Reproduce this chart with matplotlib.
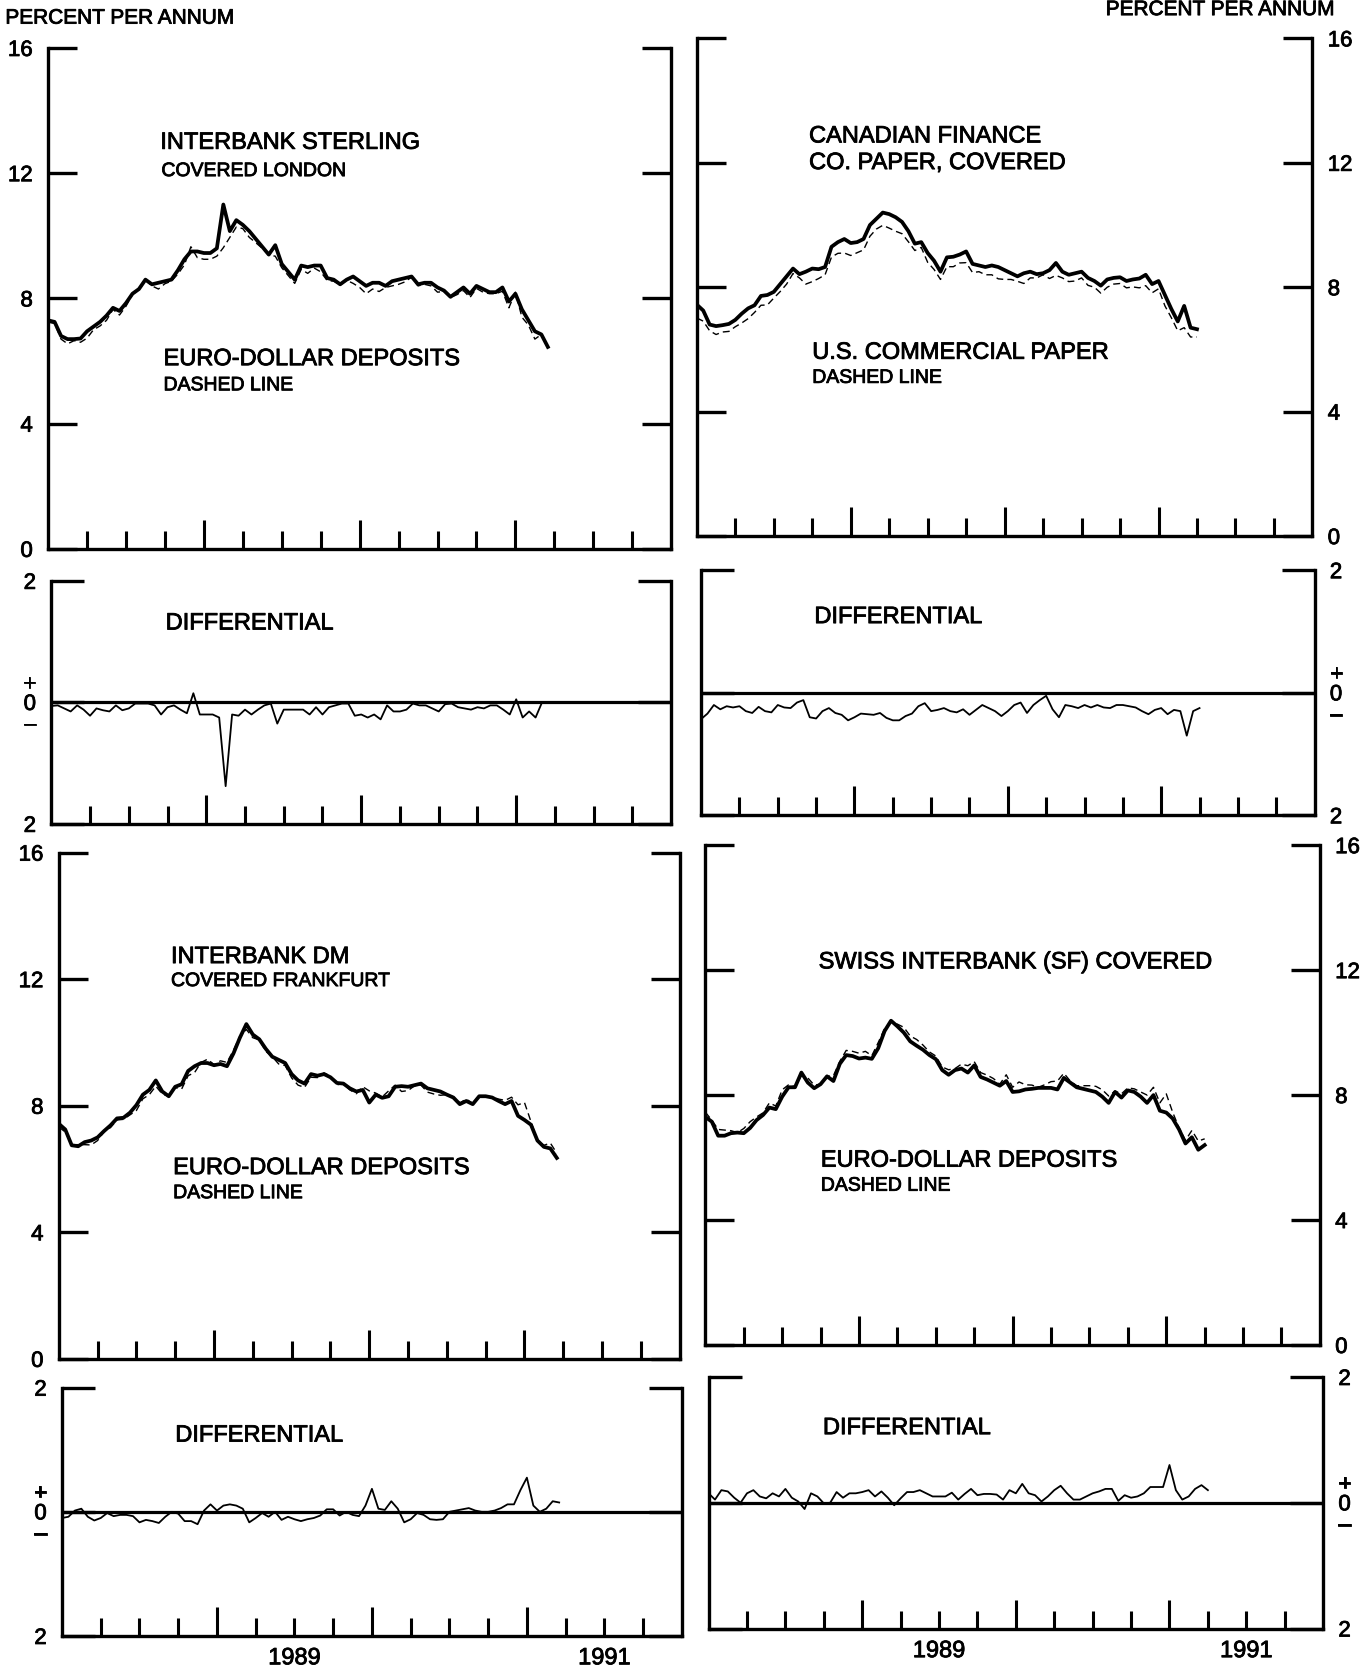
import numpy as np
import matplotlib
matplotlib.use('Agg')
import matplotlib.pyplot as plt
import matplotlib.patheffects as pe

plt.rcParams['font.family'] = ['Liberation Sans', 'DejaVu Sans']

# semi-monthly readings starting Jan 1988
START = 1988.0
STEP = 1.0 / 24

sterling = [7.3, 7.25, 6.8, 6.7, 6.7, 6.72, 6.95, 7.1, 7.25, 7.45,
            7.7, 7.6, 7.85, 8.15, 8.3, 8.6, 8.45, 8.5, 8.55, 8.6,
            8.9, 9.25, 9.5, 9.5, 9.45, 9.45, 9.6, 11.0, 10.15, 10.5,
            10.35, 10.15, 9.9, 9.65, 9.4, 9.7, 9.1, 8.85, 8.6, 9.05,
            9.0, 9.05, 9.05, 8.65, 8.6, 8.45, 8.6, 8.7, 8.55, 8.4,
            8.5, 8.5, 8.4, 8.55, 8.6, 8.65, 8.7, 8.45, 8.5, 8.5,
            8.35, 8.25, 8.05, 8.2, 8.35, 8.15, 8.4, 8.3, 8.2, 8.2,
            8.35, 7.9, 8.15, 7.65, 7.3, 6.95, 6.85, 6.45]
sterling_diff = [-0.06, -0.05, -0.1, -0.15, -0.05, -0.12, -0.22, -0.1, -0.13, -0.15,
                 -0.05, -0.13, -0.1, -0.02, -0.02, -0.02, -0.05, -0.2, -0.08, -0.05,
                 -0.12, -0.18, 0.15, -0.2, -0.2, -0.2, -0.25, -1.38, -0.2, -0.22,
                 -0.12, -0.2, -0.12, -0.05, -0.02, -0.35, -0.12, -0.12, -0.12, -0.12,
                 -0.2, -0.08, -0.2, -0.08, -0.05, -0.02, -0.02, -0.22, -0.2, -0.25,
                 -0.2, -0.28, -0.05, -0.15, -0.15, -0.12, -0.02, -0.05, -0.05, -0.1,
                 -0.15, -0.03, -0.02, -0.08, -0.1, -0.12, -0.08, -0.1, -0.05, -0.05,
                 -0.12, -0.2, 0.05, -0.25, -0.15, -0.25, 0.0]

canada = [7.44, 7.25, 6.8, 6.75, 6.78, 6.82, 6.95, 7.15, 7.32, 7.42,
          7.72, 7.75, 7.85, 8.1, 8.35, 8.6, 8.42, 8.5, 8.6, 8.58,
          8.65, 9.3, 9.45, 9.55, 9.42, 9.45, 9.55, 10.0, 10.2, 10.4,
          10.35, 10.25, 10.1, 9.8, 9.4, 9.45, 9.1, 8.85, 8.5, 8.96,
          8.98, 9.05, 9.15, 8.75, 8.7, 8.65, 8.7, 8.65, 8.55, 8.45,
          8.35, 8.45, 8.5, 8.42, 8.45, 8.55, 8.78, 8.5, 8.4, 8.45,
          8.5, 8.3, 8.2, 8.05, 8.25, 8.3, 8.32, 8.2, 8.25, 8.28,
          8.4, 8.1, 8.2, 7.75, 7.3, 6.9, 7.4, 6.7, 6.65]
canada_diff = [-0.43, -0.34, -0.2, -0.27, -0.22, -0.24, -0.22, -0.3, -0.33, -0.23,
               -0.3, -0.32, -0.2, -0.24, -0.25, -0.16, -0.12, -0.4, -0.42, -0.3,
               -0.25, -0.33, -0.36, -0.45, -0.4, -0.34, -0.35, -0.36, -0.33, -0.41,
               -0.45, -0.45, -0.38, -0.34, -0.22, -0.17, -0.3, -0.28, -0.25, -0.3,
               -0.32, -0.27, -0.36, -0.28, -0.2, -0.25, -0.3, -0.38, -0.3, -0.2,
               -0.16, -0.33, -0.2, -0.12, -0.05, -0.27, -0.4, -0.2, -0.22, -0.25,
               -0.2, -0.24, -0.2, -0.24, -0.25, -0.2, -0.2, -0.22, -0.24, -0.3,
               -0.35, -0.28, -0.25, -0.35, -0.28, -0.3, -0.7, -0.3, -0.25]

dm = [7.43, 7.25, 6.75, 6.72, 6.85, 6.9, 7.0, 7.2, 7.38, 7.6,
      7.62, 7.78, 8.02, 8.35, 8.5, 8.8, 8.45, 8.3, 8.6, 8.68,
      9.1, 9.25, 9.35, 9.35, 9.28, 9.32, 9.25, 9.65, 10.15, 10.58,
      10.25, 10.1, 9.8, 9.55, 9.45, 9.35, 9.0, 8.8, 8.7, 9.0,
      8.95, 9.0, 8.9, 8.72, 8.7, 8.55, 8.45, 8.5, 8.1, 8.35,
      8.25, 8.3, 8.6, 8.62, 8.6, 8.65, 8.7, 8.55, 8.5, 8.45,
      8.35, 8.26, 8.05, 8.15, 8.05, 8.3, 8.3, 8.26, 8.15, 8.05,
      8.15, 7.68, 7.55, 7.4, 6.9, 6.7, 6.65, 6.35]
dm_diff = [-0.1, -0.08, 0.02, 0.05, -0.08, -0.14, -0.1, -0.02, -0.07, -0.05,
           -0.05, -0.07, -0.17, -0.13, -0.15, -0.18, -0.08, 0.0, -0.03, -0.15,
           -0.15, -0.2, 0.02, 0.12, 0.02, 0.1, 0.12, 0.1, 0.05, -0.17,
           -0.1, -0.02, -0.08, 0.0, -0.13, -0.08, -0.12, -0.15, -0.12, -0.1,
           -0.06, 0.04, 0.04, -0.06, 0.0, -0.05, -0.07, 0.1, 0.37, 0.05,
           0.03, 0.17, 0.05, -0.17, -0.12, -0.02, -0.05, -0.12, -0.13, -0.12,
           0.0, 0.02, 0.04, 0.06, 0.02, 0.0, 0.0, 0.02, 0.06, 0.12,
           0.12, 0.35, 0.55, 0.1, 0.0, 0.05, 0.17, 0.15]

swiss = [7.3, 7.15, 6.7, 6.7, 6.78, 6.8, 6.78, 6.95, 7.2, 7.36,
         7.6, 7.55, 7.95, 8.25, 8.25, 8.72, 8.4, 8.22, 8.35, 8.6,
         8.45, 9.0, 9.28, 9.25, 9.17, 9.2, 9.16, 9.5, 10.05, 10.38,
         10.2, 10.0, 9.72, 9.58, 9.45, 9.28, 9.15, 8.8, 8.65, 8.8,
         8.85, 8.72, 8.95, 8.58, 8.5, 8.4, 8.3, 8.45, 8.1, 8.12,
         8.18, 8.2, 8.23, 8.23, 8.23, 8.18, 8.55, 8.4, 8.25, 8.2,
         8.15, 8.1, 7.95, 7.75, 8.1, 7.92, 8.15, 8.1, 7.95, 7.75,
         8.0, 7.5, 7.44, 7.25, 6.9, 6.45, 6.65, 6.25, 6.4]
swiss_diff = [0.15, 0.05, 0.2, 0.18, 0.08, 0.0, 0.15, 0.2, 0.1, 0.07,
              0.15, 0.1, 0.22, 0.08, 0.02, -0.1, 0.15, 0.1, -0.01, 0.0,
              0.17, 0.08, 0.15, 0.15, 0.17, 0.2, 0.1, 0.18, 0.08, -0.04,
              0.07, 0.17, 0.17, 0.2, 0.15, 0.1, 0.1, 0.1, 0.16, 0.05,
              0.14, 0.22, 0.12, 0.14, 0.14, 0.13, 0.05, 0.2, 0.15, 0.3,
              0.15, 0.12, 0.02, 0.1, 0.2, 0.27, 0.15, 0.05, 0.05, 0.1,
              0.15, 0.18, 0.22, 0.22, 0.03, 0.12, 0.08, 0.1, 0.15, 0.25,
              0.25, 0.25, 0.6, 0.2, 0.05, 0.1, 0.22, 0.28, 0.2]

level_ticks = [0, 4, 8, 12, 16]
level_labels = ['0', '4', '8', '12', '16']
diff_ticks = [-2, 0, 2]
diff_labels = ['2', '+\n0\n\u2013', '2']
years = [1989, 1990, 1991]
quarters = [1988.25, 1988.5, 1988.75, 1989.25, 1989.5, 1989.75,
            1990.25, 1990.5, 1990.75, 1991.25, 1991.5, 1991.75]
year_text = ['1989', '1991']
year_at = [1989.5, 1991.5]

fig = plt.figure(figsize=(13.68, 16.69), dpi=100)
W0, H0 = 1280.0, 1566.0
heavy = [pe.withStroke(linewidth=0.6, foreground='k')]


def rect(x0, y0, x1, y1):
    return [x0 / W0, 1 - y1 / H0, (x1 - x0) / W0, (y1 - y0) / H0]


def frame(ax, side, ticks, labels, ylen):
    ax.spines['top'].set_visible(False)
    for s in ['left', 'right', 'bottom']:
        ax.spines[s].set_linewidth(2.4)
    ax.set_xlim(1988, 1992)
    ax.set_yticks(ticks)
    ax.set_yticklabels(labels)
    ax.tick_params(axis='y', direction='in', length=ylen, width=2.4,
                   left=True, right=True, labelsize=16, pad=11,
                   labelleft=(side == 'left'), labelright=(side == 'right'))
    ax.set_xticks(years)
    ax.set_xticks(quarters, minor=True)
    ax.tick_params(axis='x', which='major', direction='in', length=21,
                   width=2.2, labelbottom=False, top=False)
    ax.tick_params(axis='x', which='minor', direction='in', length=13,
                   width=2.2, top=False)
    for lab in ax.get_yticklabels():
        lab.set_path_effects(heavy)


def level_panel(r, solid, diff, side):
    ax = fig.add_axes(rect(*r))
    t = START + STEP * np.arange(len(solid))
    n = min(len(solid), len(diff))
    dashed = np.array(solid[:n]) + np.array(diff[:n])
    ax.plot(t[:n], dashed, color='k', lw=1.0, dashes=(5, 3))
    ax.plot(t, solid, color='k', lw=2.7, solid_joinstyle='round')
    ax.set_ylim(0, 16)
    frame(ax, side, level_ticks, level_labels, 21)
    return ax


def diff_panel(r, diff, side, years_below=False):
    ax = fig.add_axes(rect(*r))
    t = START + STEP * np.arange(len(diff))
    ax.axhline(0, color='k', lw=2.3, zorder=1)
    ax.plot(t, diff, color='k', lw=1.3, zorder=2)
    ax.set_ylim(-2, 2)
    frame(ax, side, diff_ticks, diff_labels, 24)
    for lab in ax.get_yticklabels():
        lab.set_linespacing(0.95)
    if years_below:
        for x, s in zip(year_at, year_text):
            ax.text(x, -0.09, s, transform=ax.get_xaxis_transform(),
                    ha='center', va='center', fontsize=17, path_effects=heavy)
    return ax


level_panel((45, 45, 628, 515), sterling, sterling_diff, 'left')
diff_panel((48, 545, 628, 773), sterling_diff, 'left')
level_panel((55, 800, 636, 1275), dm, dm_diff, 'left')
diff_panel((58, 1302, 638, 1535), dm_diff, 'left', True)

level_panel((652, 36, 1228, 503), canada, canada_diff, 'right')
diff_panel((656, 535, 1230, 765), canada_diff, 'right')
level_panel((660, 793, 1235, 1262), swiss, swiss_diff, 'right')
diff_panel((663, 1292, 1238, 1528), swiss_diff, 'right', True)

notes = [
    (150, 134, 'INTERBANK STERLING', 17), (151, 161, 'COVERED LONDON', 14),
    (153, 337, 'EURO-DOLLAR DEPOSITS', 17), (153, 362, 'DASHED LINE', 14),
    (757, 128, 'CANADIAN FINANCE', 17), (757, 153, 'CO. PAPER, COVERED', 17),
    (760, 331, 'U.S. COMMERCIAL PAPER', 17), (760, 355, 'DASHED LINE', 14),
    (155, 585, 'DIFFERENTIAL', 17), (762, 579, 'DIFFERENTIAL', 17),
    (164, 1347, 'DIFFERENTIAL', 17), (770, 1340, 'DIFFERENTIAL', 17),
    (160, 898, 'INTERBANK DM', 17), (160, 921, 'COVERED FRANKFURT', 14),
    (162, 1096, 'EURO-DOLLAR DEPOSITS', 17), (162, 1120, 'DASHED LINE', 14),
    (766, 903, 'SWISS INTERBANK (SF) COVERED', 17),
    (768, 1089, 'EURO-DOLLAR DEPOSITS', 17), (768, 1113, 'DASHED LINE', 14),
]
for x, y, s, fs in notes:
    fig.text(x / W0, 1 - y / H0, s, fontsize=fs, ha='left', va='center',
             path_effects=heavy)

fig.text(5 / W0, 1 - 17 / H0, 'PERCENT PER ANNUM', fontsize=15, ha='left',
         va='center', path_effects=heavy)
fig.text(1250 / W0, 1 - 9 / H0, 'PERCENT PER ANNUM', fontsize=15, ha='right',
         va='center', path_effects=heavy)

fig.savefig('out.png', dpi=100, facecolor='white')
